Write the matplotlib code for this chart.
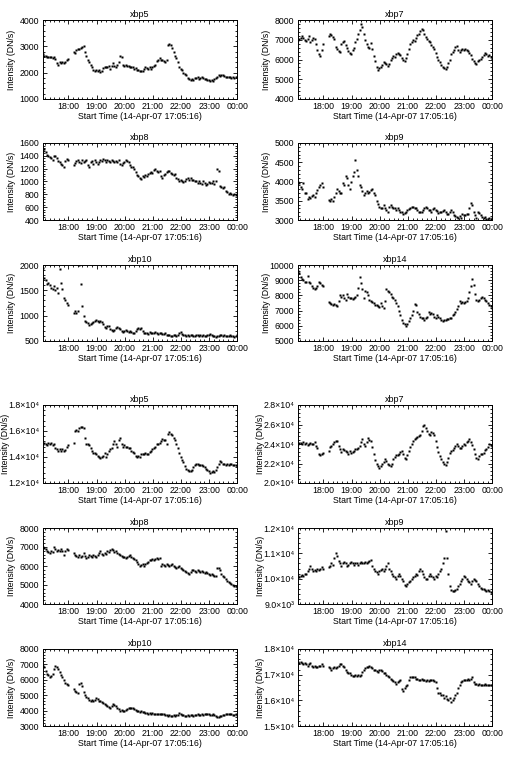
import numpy as np
import matplotlib.pyplot as plt
from matplotlib.ticker import FixedLocator, AutoMinorLocator

plt.rcParams['font.family'] = ['Liberation Sans', 'DejaVu Sans']
plt.rcParams['font.size'] = 6.3

# observation times, minutes after 17:05:16 (data gap around 18:00-18:10)
minutes = [0, 3, 6, 9, 12, 15, 18, 21, 24, 27, 30, 33, 36, 39, 42, 45, 48, 51, 54,
           66, 69, 72, 75, 78, 81, 84, 87, 90, 93,
           96, 99, 102, 105, 108, 111, 114, 117, 120, 123,
           126, 129, 132, 135, 138, 141, 144, 147, 150, 153,
           156, 159, 162, 165, 168, 171, 174, 177, 180, 183,
           186, 189, 192, 195, 198, 201, 204, 207, 210, 213,
           216, 219, 222, 225, 228, 231, 234, 237, 240, 243,
           246, 249, 252, 255, 258, 261, 264, 267, 270, 273,
           276, 279, 282, 285, 288, 291, 294, 297, 300, 303,
           306, 309, 312, 315, 318, 321, 324, 327, 330, 333,
           336, 339, 342, 345, 348, 351, 354, 357, 360, 363,
           366, 369, 372, 375, 378, 381, 384, 387, 390, 393,
           396, 399, 402, 405, 408, 411, 414]

hour_labels = ['18:00', '19:00', '20:00', '21:00', '22:00', '23:00', '00:00']

# ---- upper set ----
xbp5_a = [2700, 2650, 2620, 2600, 2600, 2580, 2600, 2560, 2580, 2520, 2350, 2300, 2400, 2380, 2420, 2360, 2400, 2480, 2530,
          2780, 2750, 2850, 2900, 2880, 2950, 2980, 3000, 2780, 2650,
          2500, 2400, 2300, 2200, 2100, 2080, 2100, 2060, 2100, 2030,
          2080, 2180, 2200, 2230, 2220, 2250, 2150, 2250, 2350, 2250,
          2200, 2300, 2400, 2650, 2600, 2300, 2250, 2280, 2250, 2250,
          2230, 2200, 2220, 2150, 2180, 2120, 2100, 2080, 2050, 2060,
          2150, 2200, 2180, 2150, 2200, 2130, 2200, 2250, 2300, 2450,
          2500, 2550, 2480, 2500, 2450, 2400, 2500, 3050, 3100, 3050,
          2950, 2800, 2650, 2550, 2400, 2200, 2150, 2100, 2000, 1950,
          1900, 1800, 1750, 1740, 1760, 1720, 1780, 1800, 1820, 1760,
          1800, 1820, 1780, 1760, 1750, 1740, 1720, 1700, 1720, 1700,
          1750, 1780, 1850, 1900, 1880, 1920, 1900, 1870, 1850, 1840,
          1830, 1830, 1800, 1820, 1800, 1820, 1850]

xbp7_a = [7000, 7050, 7100, 7200, 7100, 7000, 6950, 7050, 7200, 6900, 7000, 7100, 7050, 6800, 6500, 6300, 6200, 6500, 6800,
          7200, 7300, 7250, 7150, 7050, 6650, 6550, 6450, 6400, 6800,
          6900, 6950, 6750, 6600, 6450, 6350, 6300, 6500, 6600, 6900,
          7050, 7300, 7500, 7800, 7650, 7300, 7000, 6800, 6650, 6600,
          6850, 6550, 6200, 5900, 5600, 5450, 5550, 5600, 5700, 5850,
          5800, 5750, 5650, 5750, 5950, 6100, 6200, 6150, 6300, 6350,
          6300, 6250, 6100, 5950, 5900, 6100, 6300, 6550, 6800, 6900,
          7000, 6950, 7100, 7250, 7300, 7450, 7550, 7500, 7300, 7150,
          7050, 6950, 6900, 6750, 6650, 6550, 6350, 6150, 6000, 5850,
          5700, 5600, 5550, 5500, 5600, 5800, 6000, 6300, 6400, 6500,
          6650, 6700, 6500, 6400, 6500, 6550, 6500, 6550, 6500, 6450,
          6350, 6250, 6050, 5900, 5800, 5750, 5900, 6000, 6050, 6150,
          6250, 6350, 6300, 6200, 6250, 6150, 6050]

xbp8_a = [1480, 1500, 1460, 1420, 1400, 1380, 1360, 1340, 1400, 1390, 1360, 1320, 1300, 1280, 1260, 1220, 1320, 1350, 1340,
          1250, 1290, 1320, 1340, 1310, 1290, 1330, 1300, 1320, 1340,
          1250, 1230, 1300, 1320, 1280, 1330, 1300, 1280, 1310, 1340,
          1320, 1350, 1330, 1300, 1330, 1320, 1300, 1330, 1320, 1310,
          1320, 1300, 1330, 1280, 1250, 1290, 1310, 1330, 1320, 1300,
          1250, 1220, 1230, 1200, 1150, 1100, 1080, 1050, 1040, 1080,
          1070, 1100, 1090, 1110, 1130, 1150, 1140, 1180, 1200, 1170,
          1150, 1170, 1080, 1050, 1100, 1120, 1150, 1170, 1160, 1130,
          1120, 1100, 1110, 1060, 1040, 1010, 1030, 1000, 990, 1000,
          1040, 1050, 1030, 1050, 1020, 1030, 1010, 1000, 980, 1000,
          970, 960, 1000, 980, 950, 960, 990, 970, 980, 1000,
          960, 1000, 1190, 1170, 930, 920, 900, 910, 850, 830,
          800, 820, 810, 790, 800, 790, 800]

xbp9_a = [4000, 3950, 3850, 3800, 3950, 3700, 3700, 3550, 3600, 3580, 3620, 3650, 3600, 3700, 3780, 3850, 3900, 3950, 3850,
          3520, 3500, 3550, 3500, 3600, 3700, 3800, 3750, 3700, 3700,
          3950, 3900, 4150, 4100, 3900, 3800, 4000, 4150, 4250, 4550,
          4300, 4150, 3900, 3850, 3750, 3650, 3700, 3750, 3700, 3720,
          3780, 3800, 3700, 3650, 3500, 3420, 3350, 3300, 3320, 3400,
          3300, 3250, 3200, 3350, 3380, 3350, 3320, 3300, 3250, 3300,
          3250, 3220, 3200, 3150, 3180, 3200, 3250, 3280, 3300, 3330,
          3350, 3300, 3300, 3250, 3220, 3200, 3200, 3250, 3300, 3350,
          3300, 3270, 3250, 3200, 3280, 3300, 3250, 3230, 3170, 3200,
          3200, 3230, 3250, 3220, 3150, 3160, 3200, 3250, 3220, 3120,
          3100, 3080, 3050, 3100, 3050, 3150, 3120, 3130, 3150, 3160,
          3300, 3450, 3400, 3200, 3120, 3050, 3200, 3180, 3120, 3080,
          3050, 3080, 3030, 3020, 3050, 3030, 3040]

xbp10_a = [1950, 1750, 1700, 1620, 1650, 1600, 1550, 1520, 1580, 1500, 1550, 1450, 1930, 1650, 1520, 1350, 1300, 1250, 1220,
           1050, 1100, 1060, 1100, 2000, 1630, 1200, 1000, 900, 880,
           850, 820, 830, 860, 880, 900, 920, 900, 880, 900,
           870, 830, 780, 760, 790, 800, 740, 710, 700, 720,
           760, 770, 750, 730, 700, 680, 700, 710, 690, 680,
           700, 670, 660, 650, 700, 740, 750, 730, 760, 700,
           660, 650, 660, 640, 670, 660, 650, 660, 670, 650,
           640, 660, 650, 640, 630, 650, 620, 620, 610, 600,
           600, 610, 620, 600, 610, 650, 670, 640, 620, 610,
           600, 610, 600, 620, 610, 600, 590, 610, 620, 600,
           610, 600, 620, 600, 590, 610, 620, 630, 620, 600,
           590, 580, 590, 600, 610, 620, 600, 610, 600, 590,
           600, 610, 590, 600, 580, 590, 610]

xbp14_a = [9600, 9500, 9200, 9100, 9000, 8900, 8850, 9300, 8900, 8800, 8600, 8500, 8450, 8500, 8600, 8900, 8800, 8700, 8600,
           7550, 7500, 7450, 7400, 7450, 7400, 7300, 7600, 8000, 7900,
           8050, 7800, 7700, 8100, 7900, 7800, 7850, 7750, 7800, 7900,
           8000, 8500, 9200, 8800, 8400, 7800, 8300, 8200, 8000, 7700,
           7600, 7550, 7500, 7400, 7350, 7300, 7250, 7500, 7300, 7200,
           7600, 8400, 8300, 8200, 8100, 7900, 7800, 7700, 7500, 7300,
           7000, 6700, 6400, 6200, 6100, 6000, 6100, 6300, 6500, 6700,
           7000, 7450, 7400, 6900, 6800, 6600, 6500, 6500, 6400, 6500,
           6600, 6900, 6800, 6850, 6800, 6600, 6500, 6700, 6600, 6500,
           6350, 6300, 6400, 6400, 6450, 6450, 6500, 6500, 6700, 6800,
           6900, 7100, 7300, 7600, 7500, 7550, 7500, 7550, 7600, 7800,
           8200, 8600, 9100, 8700, 8100, 7700, 7600, 7700, 7800, 7900,
           7800, 7700, 7600, 7500, 7400, 7300, 7200]

# ---- lower set ----
xbp5_b = [15000, 15100, 15000, 14950, 15050, 15000, 15100, 14900, 15000, 14700, 14600, 14500, 14600, 14500, 14600, 14450, 14550, 14800, 14900,
          15100, 16000, 16100, 16000, 16200, 16300, 16300, 16200, 15500, 15000,
          15000, 14900, 14700, 14500, 14300, 14300, 14200, 14100, 14000, 13900,
          14000, 14100, 14300, 14000, 14200, 14500, 14600, 14700, 15000, 15200,
          15000, 14800, 15300, 15500, 15000, 14800, 14900, 14800, 14750, 14700,
          14700, 14500, 14400, 14300, 14100, 14000, 14100, 14000, 14200, 14250,
          14200, 14300, 14250, 14200, 14400, 14500, 14600, 14700, 14800, 15000,
          15000, 15100, 15200, 15400, 15300, 15300, 15000, 15800, 15900, 15800,
          15700, 15500, 15300, 15000, 14700, 14300, 14000, 13800, 13600, 13300,
          13100, 13000, 12900, 12950, 13000, 13200, 13400, 13500, 13500, 13400,
          13400, 13350, 13300, 13200, 13100, 13000, 12900, 12800, 12850, 12900,
          12850, 13000, 13200, 13500, 13700, 13650, 13500, 13450, 13400, 13500,
          13400, 13500, 13450, 13400, 13350, 13400, 13300]

xbp7_b = [24000, 24100, 24100, 24000, 24200, 24000, 24100, 23900, 24000, 24100, 23950, 24000, 24200, 23800, 23600, 23000, 22900, 23000, 23050,
          23300, 23700, 23800, 24000, 24200, 24300, 24300, 23800, 23500, 23200,
          23500, 23400, 23300, 23200, 23000, 23300, 23100, 23200, 23300, 23500,
          23500, 23600, 23800, 24200, 24500, 24000, 23800, 24200, 24600, 24400,
          24300, 23700, 23000, 22400, 21900, 21700, 21500, 21700, 22000, 22200,
          22500, 22300, 22000, 21800, 21700, 22000, 22500, 22700, 22900, 22900,
          23000, 23200, 23300, 23000, 22600, 22500, 22900, 23300, 23700, 24000,
          24300, 24500, 24600, 24700, 24800, 24900, 25300, 25800, 25900, 25600,
          25300, 25000, 24900, 25200, 25100, 24900, 24300, 23700, 23200, 22800,
          22500, 22200, 21900, 21800, 22200, 22600, 23100, 23300, 23400, 23600,
          23800, 24000, 23800, 23600, 23600, 23800, 24000, 23900, 24200, 24300,
          24500, 24200, 23900, 23500, 23000, 22600, 22500, 22800, 23000, 23000,
          23100, 23400, 23500, 23700, 24000, 23900, 23800]

xbp8_b = [7000, 6950, 6900, 6800, 6750, 6700, 6800, 6750, 7000, 6900, 6800, 6850, 6800, 6900, 6800, 6600, 6800, 6900, 6850,
          6700, 6600, 6550, 6500, 6600, 6500, 6550, 6700, 6550, 6400,
          6450, 6600, 6550, 6500, 6600, 6550, 6500, 6600, 6700, 6800,
          6650, 6600, 6700, 6650, 6800, 6750, 6850, 6900, 6850, 6750,
          6800, 6700, 6650, 6600, 6550, 6500, 6450, 6400, 6500, 6550,
          6600, 6500, 6400, 6350, 6300, 6200, 6100, 6000, 6050, 6100,
          6000, 6100, 6150, 6200, 6300, 6300, 6350, 6300, 6350, 6400,
          6350, 6400, 6000, 6100, 6050, 6000, 6100, 6050, 6000, 6050,
          6100, 6000, 5950, 5900, 5950, 6000, 5900, 5850, 5800, 5750,
          5700, 5650, 5600, 5700, 5800, 5800, 5750, 5700, 5800, 5750,
          5700, 5750, 5700, 5650, 5700, 5650, 5600, 5550, 5600, 5550,
          5500, 5450, 5900, 5900, 5800, 5600, 5450, 5400, 5300, 5200,
          5150, 5100, 5050, 5000, 4950, 4950, 4900]

xbp9_b = [10100, 10050, 10100, 10150, 10100, 10200, 10200, 10300, 10400, 10500, 10400, 10300, 10350, 10300, 10400, 10350, 10400, 10450, 10400,
          10450, 10500, 10600, 10550, 10800, 11000, 10900, 10700, 10600, 10500,
          10600, 10650, 10600, 10500, 10550, 10600, 10650, 10600, 10550, 10600,
          10600, 10550, 10600, 10650, 10600, 10600, 10650, 10600, 10650, 10700,
          10750, 10500, 10400, 10300, 10250, 10200, 10300, 10350, 10400, 10300,
          10400, 10500, 10600, 10400, 10300, 10200, 10100, 10050, 10000, 10100,
          10200, 10100, 10000, 9900, 9750, 9700, 9800, 9850, 9900, 10000,
          10050, 10100, 10200, 10150, 10300, 10400, 10300, 10200, 10050, 10000,
          10000, 10100, 10200, 10100, 10050, 10000, 10100, 10050, 10200, 10300,
          10400, 10600, 10800, 11900, 10800, 10200, 9700, 9550, 9500, 9500,
          9550, 9600, 9700, 9800, 9900, 10000, 10100, 10050, 10000, 9900,
          9850, 9800, 9900, 10000, 9950, 9900, 9800, 9700, 9650, 9600,
          9600, 9550, 9500, 9550, 9500, 9480, 9450]

xbp10_b = [6900, 6800, 6600, 6400, 6300, 6200, 6250, 6350, 6700, 6900, 6800, 6700, 6500, 6300, 6200, 6000, 5800, 5700, 5650,
           5400, 5300, 5200, 5150, 5750, 5800, 5600, 5200, 5000, 4900,
           4800, 4700, 4650, 4700, 4650, 4700, 4800, 4750, 4650, 4600,
           4550, 4500, 4400, 4350, 4300, 4250, 4200, 4300, 4400, 4350,
           4300, 4200, 4100, 4000, 4050, 4000, 4000, 4050, 4100, 4150,
           4200, 4150, 4150, 4100, 4050, 4000, 3950, 3900, 3950, 3900,
           3900, 3850, 3850, 3800, 3850, 3800, 3850, 3800, 3800, 3750,
           3800, 3750, 3750, 3800, 3750, 3700, 3700, 3650, 3700, 3650,
           3650, 3700, 3650, 3700, 3700, 3850, 3800, 3700, 3700, 3650,
           3650, 3700, 3650, 3700, 3700, 3650, 3700, 3700, 3750, 3700,
           3700, 3750, 3700, 3750, 3800, 3800, 3750, 3700, 3700, 3750,
           3700, 3650, 3600, 3600, 3650, 3650, 3700, 3700, 3750, 3750,
           3800, 3750, 3750, 3700, 3700, 3750, 3700]

xbp14_b = [17500, 17450, 17500, 17450, 17400, 17450, 17400, 17350, 17400, 17450, 17350, 17300, 17350, 17300, 17300, 17350, 17350, 17400, 17350,
           17300, 17250, 17200, 17250, 17300, 17250, 17300, 17350, 17400, 17400,
           17350, 17300, 17200, 17100, 17050, 17050, 17000, 16950, 16950, 17000,
           16950, 17000, 16950, 17000, 17100, 17200, 17250, 17300, 17300, 17350,
           17300, 17250, 17200, 17200, 17150, 17100, 17200, 17200, 17150, 17050,
           17050, 17000, 16950, 16900, 16850, 16800, 16750, 16700, 16650, 16700,
           16750, 16800, 16450, 16350, 16500, 16550, 16600, 16800, 16900, 16900,
           16900, 16900, 16850, 16850, 16800, 16800, 16850, 16800, 16800, 16750,
           16800, 16750, 16800, 16800, 16800, 16750, 16700, 16500, 16300, 16300,
           16200, 16200, 16100, 16150, 16050, 16000, 16100, 15950, 16000, 16100,
           16200, 16300, 16500, 16600, 16700, 16750, 16800, 16800, 16800, 16850,
           16800, 16850, 16900, 16700, 16650, 16650, 16600, 16650, 16600, 16600,
           16600, 16650, 16600, 16600, 16580, 16600, 16600]

# y axis ticks and labels per panel
ticks_5a = [1000, 2000, 3000, 4000]
ticks_7a = [4000, 5000, 6000, 7000, 8000]
ticks_8a = [400, 600, 800, 1000, 1200, 1400, 1600]
ticks_9a = [3000, 3500, 4000, 4500, 5000]
ticks_10a = [500, 1000, 1500, 2000]
ticks_14a = [5000, 6000, 7000, 8000, 9000, 10000]
ticks_5b = [12000, 14000, 16000, 18000]
labels_5b = ['1.2×10⁴', '1.4×10⁴', '1.6×10⁴', '1.8×10⁴']
ticks_7b = [20000, 22000, 24000, 26000, 28000]
labels_7b = ['2.0×10⁴', '2.2×10⁴', '2.4×10⁴', '2.6×10⁴', '2.8×10⁴']
ticks_8b = [4000, 5000, 6000, 7000, 8000]
ticks_9b = [9000, 10000, 11000, 12000]
labels_9b = ['9.0×10³', '1.0×10⁴', '1.1×10⁴', '1.2×10⁴']
ticks_10b = [3000, 4000, 5000, 6000, 7000, 8000]
ticks_14b = [15000, 16000, 17000, 18000]
labels_14b = ['1.5×10⁴', '1.6×10⁴', '1.7×10⁴', '1.8×10⁴']

W, H = 511, 759
fig = plt.figure(figsize=(W / 100, H / 100), dpi=100)

start = 17 * 60 + 5 + 16 / 60.0
span = 24 * 60 - start
hour_pos = [h * 60 - start for h in range(18, 25)]
minor_pos = [m - start for m in range(17 * 60 + 10, 24 * 60 + 1, 10)]

col_x = [42.7, 297.7]
col_w = 194.6
rows = [(20, 99), (143, 220), (265, 341), (405, 483), (528, 604), (649, 726)]


def panel(row, col, title, vals, yticks, ylabels=None):
    top, bot = rows[row]
    ax = fig.add_axes([col_x[col] / W, 1 - bot / H, col_w / W, (bot - top) / H])
    ax.plot(minutes, vals, 's', ms=1.8, color='black', mec='none')
    ax.set_xlim(0, span)
    ax.set_ylim(yticks[0], yticks[-1])
    ax.set_xticks(hour_pos)
    ax.set_xticklabels(hour_labels)
    ax.xaxis.set_minor_locator(FixedLocator(minor_pos))
    ax.set_yticks(yticks)
    if ylabels is not None:
        ax.set_yticklabels(ylabels)
    ax.yaxis.set_minor_locator(AutoMinorLocator(5))
    ax.tick_params(which='both', direction='in', top=True, right=True, width=0.6)
    ax.tick_params(which='major', length=3, pad=2.5)
    ax.tick_params(which='minor', length=1.5)
    for s in ax.spines.values():
        s.set_linewidth(0.7)
    ax.set_title(title, fontsize=6.5, pad=2)
    ax.set_xlabel('Start Time (14-Apr-07 17:05:16)', labelpad=0.5)
    ax.set_ylabel('Intensity (DN/s)')
    # right edge of the rotated label, in px left of the box
    off = 33.0 if ylabels is not None else 26.5
    ax.yaxis.set_label_coords(-off / col_w, 0.5)


panel(0, 0, 'xbp5', xbp5_a, ticks_5a)
panel(0, 1, 'xbp7', xbp7_a, ticks_7a)
panel(1, 0, 'xbp8', xbp8_a, ticks_8a)
panel(1, 1, 'xbp9', xbp9_a, ticks_9a)
panel(2, 0, 'xbp10', xbp10_a, ticks_10a)
panel(2, 1, 'xbp14', xbp14_a, ticks_14a)
panel(3, 0, 'xbp5', xbp5_b, ticks_5b, labels_5b)
panel(3, 1, 'xbp7', xbp7_b, ticks_7b, labels_7b)
panel(4, 0, 'xbp8', xbp8_b, ticks_8b)
panel(4, 1, 'xbp9', xbp9_b, ticks_9b, labels_9b)
panel(5, 0, 'xbp10', xbp10_b, ticks_10b)
panel(5, 1, 'xbp14', xbp14_b, ticks_14b, labels_14b)

fig.savefig('out.png', dpi=100)
